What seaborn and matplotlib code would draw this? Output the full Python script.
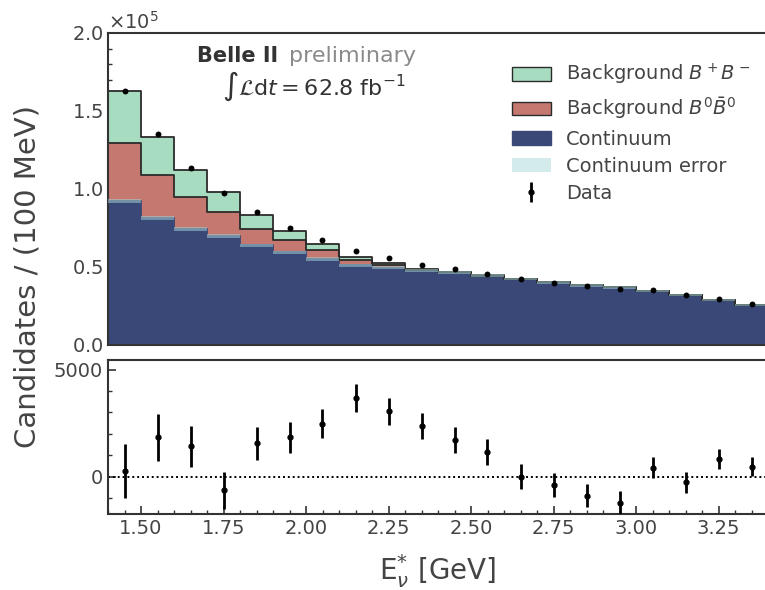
import pandas as pd
import matplotlib
matplotlib.use("Agg")
import matplotlib.pyplot as plt
from matplotlib.patches import Patch
from matplotlib.ticker import MultipleLocator, ScalarFormatter
import seaborn as sns

# E*_nu bins, 100 MeV wide
bin_edges = [1.4, 1.5, 1.6, 1.7, 1.8, 1.9, 2.0, 2.1, 2.2, 2.3, 2.4,
             2.5, 2.6, 2.7, 2.8, 2.9, 3.0, 3.1, 3.2, 3.3, 3.4]
bin_centers = [1.45, 1.55, 1.65, 1.75, 1.85, 1.95, 2.05, 2.15, 2.25, 2.35,
               2.45, 2.55, 2.65, 2.75, 2.85, 2.95, 3.05, 3.15, 3.25, 3.35]

# candidates / 100 MeV
continuum = [92500, 81500, 74500, 70000, 63900, 59400, 55100, 51000, 49400, 47800,
             46200, 44300, 42300, 40200, 38100, 36800, 34600, 32100, 28900, 25700]
continuum_err = [1400, 1300, 1200, 1200, 1100, 1100, 1050, 1000, 1000, 950,
                 950, 900, 900, 850, 850, 800, 800, 750, 750, 700]
bkg_b0b0 = [36900, 27700, 20100, 15400, 10700, 7700, 5500, 3200, 2200, 500,
            300, 200, 200, 100, 100, 100, 100, 100, 50, 50]
bkg_bpbm = [33400, 24100, 17700, 12700, 8800, 6000, 3900, 2300, 900, 400,
            300, 200, 100, 100, 100, 100, 100, 100, 50, 50]
data = [163100, 135100, 113700, 97400, 85000, 74900, 67000, 60200, 55500, 51100,
        48500, 45800, 42600, 40000, 37800, 35800, 35200, 32000, 29800, 26300]

# data - prediction (lower panel)
residual = [260, 1830, 1410, -650, 1550, 1830, 2470, 3660, 3050, 2360,
            1720, 1140, 0, -400, -900, -1220, 420, -260, 820, 470]
residual_err = [1270, 1080, 950, 850, 780, 720, 680, 660, 630, 620,
                600, 600, 580, 560, 530, 540, 510, 490, 480, 460]

c_green = "#a8dcc0"
c_red = "#c47870"
c_navy = "#3a4878"
c_band = "#a8d8d8"
c_edge = "#2b2b2b"
c_text = "#444444"

sns.set_style("ticks")
plt.rcParams["axes.edgecolor"] = "#333333"
plt.rcParams["axes.linewidth"] = 1.5
plt.rcParams["xtick.color"] = "#333333"
plt.rcParams["ytick.color"] = "#333333"
plt.rcParams["xtick.labelcolor"] = c_text
plt.rcParams["ytick.labelcolor"] = c_text

df_stack = pd.DataFrame({
    "E": bin_centers * 3,
    "N": bkg_bpbm + bkg_b0b0 + continuum,
    "comp": ["bpbm"] * 20 + ["b0b0"] * 20 + ["cont"] * 20,
})
order = ["bpbm", "b0b0", "cont"]

fig = plt.figure(figsize=(7.65, 5.9), dpi=100)
ax_top = fig.add_axes([108 / 765, 1 - 345 / 590, 660 / 765, 312 / 590])
ax_bot = fig.add_axes([108 / 765, 1 - 514 / 590, 660 / 765, 154 / 590])

# stacked histogram
sns.histplot(data=df_stack, x="E", weights="N", hue="comp", hue_order=order,
             multiple="stack", bins=bin_edges, element="step", fill=True,
             alpha=1, linewidth=0, legend=False,
             palette={"bpbm": c_green, "b0b0": c_red, "cont": c_navy}, ax=ax_top)
sns.histplot(data=df_stack, x="E", weights="N", hue="comp", hue_order=order,
             multiple="stack", bins=bin_edges, element="step", fill=False,
             alpha=1, linewidth=1.3, legend=False,
             palette={"bpbm": c_edge, "b0b0": c_edge, "cont": c_navy}, ax=ax_top)

lo = [c - e for c, e in zip(continuum, continuum_err)]
hi = [c + e for c, e in zip(continuum, continuum_err)]
ax_top.stairs(hi, bin_edges, baseline=lo, fill=True, color=c_band, alpha=0.5, lw=0, zorder=3)

sns.scatterplot(x=bin_centers, y=data, color="k", s=18, linewidth=0, ax=ax_top, zorder=5)

# residuals
eb = ax_bot.errorbar(bin_centers, residual, yerr=residual_err, fmt="o", color="k",
                     ms=3.5, elinewidth=2, capsize=0, zorder=5)
ax_bot.axhline(0, color="k", lw=1.4, ls=(0, (1, 1.5)), zorder=2)

for ax in (ax_top, ax_bot):
    ax.set_xlim(1.4, 3.4)
    ax.xaxis.set_major_locator(MultipleLocator(0.25))
    ax.xaxis.set_minor_locator(MultipleLocator(0.05))
    ax.tick_params(which="both", direction="in", labelsize=14)
    ax.tick_params(which="major", length=5.5, width=1.2)
    ax.tick_params(which="minor", length=3, width=1)
    ax.spines["right"].set_visible(False)
    ax.set_xlabel("")
    ax.set_ylabel("")

ax_top.set_ylim(0, 2.0e5)
ax_top.yaxis.set_major_locator(MultipleLocator(0.5e5))
ax_top.yaxis.set_minor_locator(MultipleLocator(0.1e5))
fmt = ScalarFormatter(useMathText=True)
fmt.set_powerlimits((0, 0))
ax_top.yaxis.set_major_formatter(fmt)
ax_top.yaxis.get_offset_text().set_fontsize(14)
ax_top.yaxis.get_offset_text().set_color(c_text)
ax_top.tick_params(labelbottom=False)

ax_bot.set_ylim(-1750, 5450)
ax_bot.yaxis.set_major_locator(MultipleLocator(5000))
ax_bot.yaxis.set_minor_locator(MultipleLocator(1000))
ax_bot.set_xlabel(r"E$^{*}_{\nu}$ [GeV]", fontsize=20, color=c_text, labelpad=10)

fig.text(28 / 765, 1 - 276 / 590, "Candidates / (100 MeV)", rotation=90,
         ha="center", va="center", fontsize=21, color=c_text)

fig.text(197 / 765, 1 - 62 / 590, "Belle II", fontsize=15, fontweight="bold",
         color="#333333", ha="left", va="baseline")
fig.text(289 / 765, 1 - 62 / 590, "preliminary", fontsize=16, color="#8a8a8a",
         ha="left", va="baseline")
fig.text(222 / 765, 1 - 95 / 590, r"$\int\mathcal{L}\mathrm{d}t = 62.8$ fb$^{-1}$",
         fontsize=16, color="#333333", ha="left", va="baseline")

handles = [
    Patch(facecolor=c_green, edgecolor=c_edge, lw=1),
    Patch(facecolor=c_red, edgecolor=c_edge, lw=1),
    Patch(facecolor=c_navy, edgecolor=c_navy, lw=1),
    Patch(facecolor=c_band, alpha=0.5, edgecolor="none"),
    eb,
]
labels = [r"Background $B^+B^-$", r"Background $B^0\bar{B}^0$", "Continuum",
          "Continuum error", "Data"]
ax_top.legend(handles, labels, loc="upper left", bbox_to_anchor=(0.659, 0.908),
              bbox_transform=fig.transFigure, frameon=False, fontsize=14,
              borderaxespad=0, labelcolor=c_text, labelspacing=0.42)

fig.savefig("out.png", dpi=100)
